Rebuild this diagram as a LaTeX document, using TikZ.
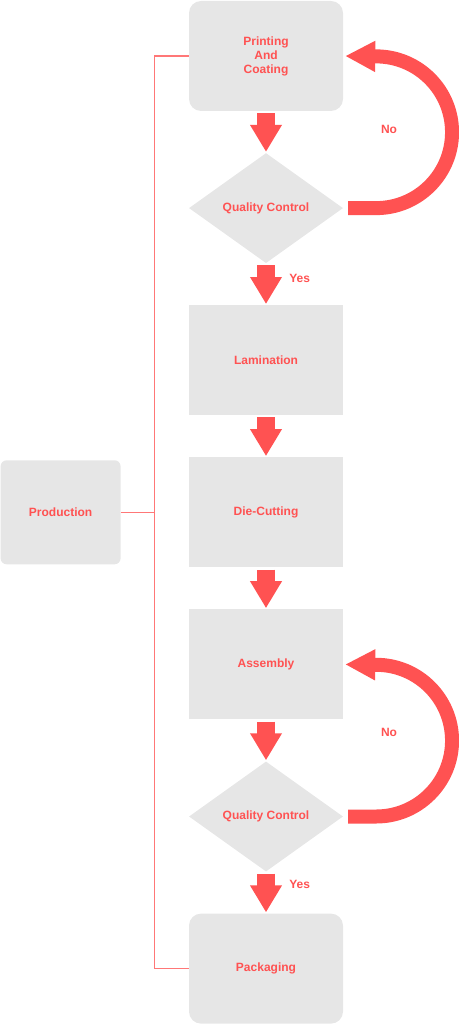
\documentclass[tikz,border=0pt]{standalone}
\usepackage{fontspec}
\setmainfont{Liberation Sans}
\usetikzlibrary{shapes.geometric,arrows.meta,positioning}
\definecolor{boxgray}{HTML}{E6E6E6}
\definecolor{flowred}{HTML}{FF5252}
\definecolor{linkred}{HTML}{FF7777}

\begin{document}
\begin{tikzpicture}[
  x=1pt, y=1pt,
  node distance=41.7pt and 68pt,
  every node/.style={font=\fontsize{12}{14}\selectfont\bfseries, text=flowred},
  stage/.style={fill=boxgray, align=center, minimum width=154pt, minimum height=110pt, inner sep=0pt},
  rstage/.style={stage, rounded corners=12pt},
  check/.style={fill=boxgray, diamond, aspect=1.4, minimum width=154pt, minimum height=110pt, inner sep=0pt},
  flow/.style={flowred, line width=18pt, -{Triangle[width=30pt,length=27pt]}, shorten <=2pt, shorten >=1pt},
  back/.style={flowred, line width=14pt, -{Triangle[width=29pt,length=30pt]}, shorten <=5pt, shorten >=2pt},
  link/.style={linkred, line width=1.2pt}
]
\useasboundingbox (0,0) rectangle (458,-1024);

% main column
\node[rstage] (print) at (266,-56) {Printing\\And\\Coating};
\node[check, below=of print] (qc1) {Quality Control};
\node[stage, below=of qc1] (lam) {Lamination};
\node[stage, below=of lam] (die) {Die-Cutting};
\node[stage, below=of die] (assem) {Assembly};
\node[check, below=of assem] (qc2) {Quality Control};
\node[rstage, below=of qc2] (pack) {Packaging};
\node[rstage, rounded corners=6pt, minimum width=120pt, minimum height=104pt, left=68pt of die] (prod) {Production};

% block arrows
\draw[flow] (print) -- (qc1);
\draw[flow] (qc1) -- node[right=11pt, pos=0.36]{Yes} (lam);
\draw[flow] (lam) -- (die);
\draw[flow] (die) -- (assem);
\draw[flow] (assem) -- (qc2);
\draw[flow] (qc2) -- node[right=11pt, pos=0.3]{Yes} (pack);

% rework loops
\draw[back] (qc1.east) -- ++(33,0) arc[start angle=-90, end angle=90, radius=75.85] -- (print.east);
\draw[back] (qc2.east) -- ++(33,0) arc[start angle=-90, end angle=90, radius=75.85] -- (assem.east);
\node (no1) at (389,-129) {No};
\node (no2) at (389,-732) {No};

% production bracket
\draw[link] (prod.east) -- ++(34,0) coordinate (trunk);
\draw[link] (print.west) -| (trunk) |- (pack.west);
\end{tikzpicture}
\end{document}
